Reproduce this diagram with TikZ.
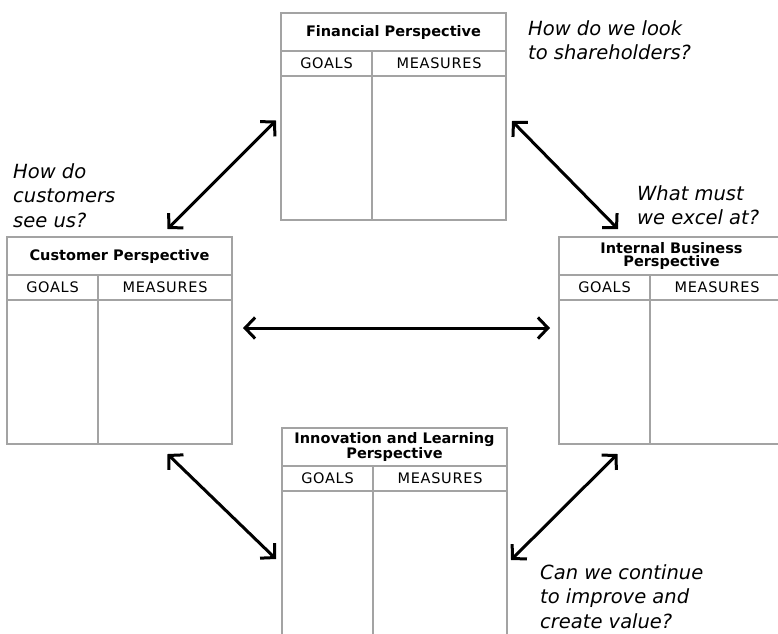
\documentclass[tikz,border=0pt]{standalone}
\usepackage{fontspec}
\setmainfont{DejaVu Sans}
\usetikzlibrary{positioning, arrows.meta}
\definecolor{rulegray}{HTML}{A3A3A3}
\tikzset{
	x=1pt, y=1pt,
	cell/.style={draw=rulegray, line width=2pt, inner sep=0pt, outer sep=0pt},
	box/.style={cell, minimum width=225pt, minimum height=207pt},
	title/.style={cell, minimum width=225pt, minimum height=38pt, align=center,
		font=\fontsize{14.5}{13}\selectfont\bfseries},
	goals/.style={cell, minimum width=91pt, minimum height=25pt,
		font=\fontsize{14.5}{16}\selectfont\addfontfeature{LetterSpace=5}},
	measures/.style={goals, minimum width=134pt},
	divider/.style={draw=rulegray, line width=2pt},
	link/.style={<->, line width=3pt, >={Straight Barb[length=10pt,width=21pt]}},
	question/.style={align=left, inner sep=0pt, anchor=north west,
		font=\fontsize{19.5}{24.5}\selectfont\itshape}
}

\begin{document}
\begin{tikzpicture}
	\useasboundingbox (0,0) rectangle (778,-633);

	% financial
	\node[box] (fin) at (393.5,-116.5) {};
	\node[title, below=0pt of fin.north] (fin-t) {Financial Perspective};
	\node[goals, anchor=north west] (fin-g) at (fin-t.south west) {GOALS};
	\node[measures, right=0pt of fin-g] (fin-m) {MEASURES};
	\draw[divider] (fin-g.south east) -- (fin-g.east |- fin.south);

	% customer
	\node[box] (cust) at (119.5,-340.5) {};
	\node[title, below=0pt of cust.north] (cust-t) {Customer Perspective};
	\node[goals, anchor=north west] (cust-g) at (cust-t.south west) {GOALS};
	\node[measures, right=0pt of cust-g] (cust-m) {MEASURES};
	\draw[divider] (cust-g.south east) -- (cust-g.east |- cust.south);

	% internal business
	\node[box] (int) at (671.5,-340.5) {};
	\node[title, below=0pt of int.north] (int-t) {Internal Business\\Perspective};
	\node[goals, anchor=north west] (int-g) at (int-t.south west) {GOALS};
	\node[measures, right=0pt of int-g] (int-m) {MEASURES};
	\draw[divider] (int-g.south east) -- (int-g.east |- int.south);

	% innovation and learning
	\node[box] (inno) at (394.5,-531.5) {};
	\node[title, below=0pt of inno.north] (inno-t) {Innovation and Learning\\Perspective};
	\node[goals, anchor=north west] (inno-g) at (inno-t.south west) {GOALS};
	\node[measures, right=0pt of inno-g] (inno-m) {MEASURES};
	\draw[divider] (inno-g.south east) -- (inno-g.east |- inno.south);

	% questions
	\node[question] (q-fin) at (528,-20) {How do we look\\to shareholders?};
	\node[question] (q-cust) at (13,-163) {How do\\customers\\see us?};
	\node[question] (q-int) at (637,-185) {What must\\we excel at?};
	\node[question] (q-inno) at (540,-564) {Can we continue\\to improve and\\create value?};

	% links
	\draw[link] ([shift={(-5,-4)}]fin.west) -- ([shift={(48,8)}]cust.north);
	\draw[link] ([shift={(6,-4.5)}]fin.east) -- ([shift={(-53.5,8)}]int.north);
	\draw[link] ([shift={(11,12.5)}]cust.east) -- ([shift={(-9,12.5)}]int.west);
	\draw[link] ([shift={(48,-10)}]cust.south) -- ([shift={(-6,-27.5)}]inno.west);
	\draw[link] ([shift={(-54,-10)}]int.south) -- ([shift={(4,-28.5)}]inno.east);
\end{tikzpicture}
\end{document}
